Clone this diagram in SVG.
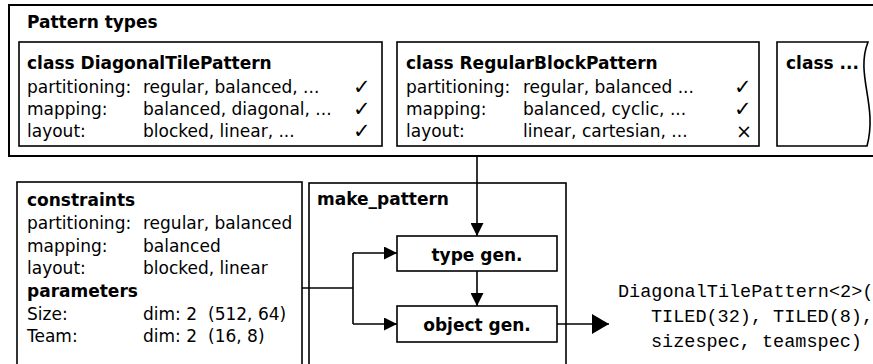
<svg xmlns="http://www.w3.org/2000/svg" width="873" height="364" viewBox="0 0 873 364">
<defs>
<marker id="arr" markerWidth="13" markerHeight="13" refX="13" refY="6.5" orient="auto" markerUnits="userSpaceOnUse">
<path d="M0,0 L13,6.5 L0,13 Z" fill="#000"/>
</marker>
<marker id="arrbig" markerWidth="17" markerHeight="20" refX="17" refY="10" orient="auto" markerUnits="userSpaceOnUse">
<path d="M0,0 L17,10 L0,20 Z" fill="#000"/>
</marker>
</defs>
<style>
.box{fill:#fff;stroke:#000;stroke-width:1.6}
.outer{fill:none;stroke:#000;stroke-width:2}
.t{font-family:"DejaVu Sans",sans-serif;font-size:17px;fill:#000}
.b{font-weight:bold}
.ck{font-family:"DejaVu Sans",sans-serif;font-size:21px;fill:#000}
.x{font-family:"DejaVu Sans",sans-serif;font-size:19px;fill:#000}
.m{font-family:"Liberation Mono","Courier New",monospace;font-size:18.5px;fill:#000}
.c{fill:none;stroke:#000;stroke-width:1.6}
</style>
<rect width="873" height="364" fill="#fff"/>
<g id="pattern-types">
<rect class="outer" x="9" y="5" width="880" height="151"/>
<text class="t b" x="27" y="28">Pattern types</text>
</g>
<g id="diagonal-tile">
<rect class="box" x="19" y="42" width="363" height="104"/>
<text class="t b" x="27" y="69">class DiagonalTilePattern</text>
<text class="t" x="27" y="93">partitioning:</text>
<text class="t" x="143" y="93">regular, balanced, ...</text>
<text class="ck" x="353" y="94">✓</text>
<text class="t" x="27" y="115">mapping:</text>
<text class="t" x="143" y="115">balanced, diagonal, ...</text>
<text class="ck" x="353" y="116">✓</text>
<text class="t" x="27" y="137">layout:</text>
<text class="t" x="143" y="137">blocked, linear, ...</text>
<text class="ck" x="353" y="138">✓</text>
</g>
<g id="regular-block">
<rect class="box" x="397" y="42" width="362" height="104"/>
<text class="t b" x="406" y="69">class RegularBlockPattern</text>
<text class="t" x="406" y="93">partitioning:</text>
<text class="t" x="523" y="93">regular, balanced ...</text>
<text class="ck" x="734" y="94">✓</text>
<text class="t" x="406" y="115">mapping:</text>
<text class="t" x="523" y="115">balanced, cyclic, ...</text>
<text class="ck" x="734" y="116">✓</text>
<text class="t" x="406" y="137">layout:</text>
<text class="t" x="523" y="137">linear, cartesian, ...</text>
<text class="x" x="736" y="138">×</text>
</g>
<g id="class-more">
<path class="box" d="M777,42 L868,42 C855,75 878,105 867,146 L777,146 Z"/>
<text class="t b" x="786" y="69">class ...</text>
</g>
<g id="constraints">
<rect class="box" x="17" y="182" width="285" height="200"/>
<text class="t b" x="27" y="206">constraints</text>
<text class="t" x="27" y="229">partitioning:</text>
<text class="t" x="143" y="229">regular, balanced</text>
<text class="t" x="27" y="252">mapping:</text>
<text class="t" x="143" y="252">balanced</text>
<text class="t" x="27" y="274">layout:</text>
<text class="t" x="143" y="274">blocked, linear</text>
<text class="t b" x="27" y="297">parameters</text>
<text class="t" x="27" y="320">Size:</text>
<text class="t" x="143" y="320">dim: 2</text>
<text class="t" x="208" y="320">(512, 64)</text>
<text class="t" x="27" y="342">Team:</text>
<text class="t" x="143" y="342">dim: 2</text>
<text class="t" x="208" y="342">(16, 8)</text>
</g>
<g id="make-pattern">
<rect class="box" x="309" y="183" width="257" height="200"/>
<text class="t b" x="317" y="205">make_pattern</text>
</g>
<g id="type-gen">
<rect class="box" x="397" y="236" width="160" height="35"/>
<text class="t b" x="477" y="261" text-anchor="middle">type gen.</text>
</g>
<g id="object-gen">
<rect class="box" x="397" y="306" width="160" height="36"/>
<text class="t b" x="477" y="331" text-anchor="middle">object gen.</text>
</g>
<g id="result">
<text class="m" x="618" y="297">DiagonalTilePattern&lt;2&gt;(</text>
<text class="m" x="651" y="322">TILED(32), TILED(8),</text>
<text class="m" x="651" y="347">sizespec, teamspec)</text>
</g>
<g id="connectors">
<path class="c" d="M477,156 L477,236" marker-end="url(#arr)"/>
<path class="c" d="M477,271 L477,306" marker-end="url(#arr)"/>
<path class="c" d="M302,288 L353,288"/>
<path class="c" d="M353,253 L353,324"/>
<path class="c" d="M353,253 L397,253" marker-end="url(#arr)"/>
<path class="c" d="M353,324 L397,324" marker-end="url(#arr)"/>
<path class="c" d="M557,324 L609,324" marker-end="url(#arrbig)"/>
</g>
</svg>
